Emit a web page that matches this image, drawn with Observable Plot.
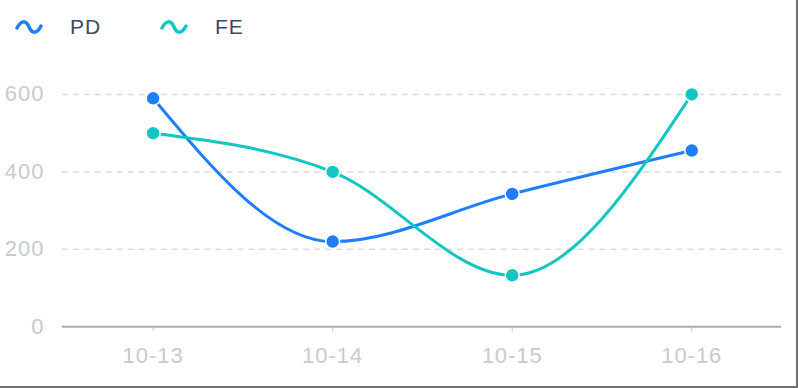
<!DOCTYPE html>
<html>
<head>
<meta charset="utf-8">
<script src="https://cdn.jsdelivr.net/npm/d3@7"></script>
<script src="https://cdn.jsdelivr.net/npm/@observablehq/plot@0.6"></script>
<style>
  html, body { margin: 0; padding: 0; background: #fff; }
  #wrap { position: relative; width: 798px; height: 388px; overflow: hidden; box-sizing: border-box; border-right: 2px solid #707070; border-bottom: 2px solid #707070; font-family: "Liberation Sans", Arial, Helvetica, sans-serif; }
  #legend { position: relative; height: 60px; }
  .item { position: absolute; top: 15px; display: flex; align-items: center; font-size: 21px; letter-spacing: 1px; color: #3d4a66; }
  .item svg { margin-right: 27px; }
  #chart { position: absolute; top: 60px; left: 0; }
  #chart text { letter-spacing: 1px; }
</style>
</head>
<body>
<div id="wrap">
  <div id="legend"></div>
  <div id="chart"></div>
</div>
<script>
const dates = ["10-13", "10-14", "10-15", "10-16"];
const pdValues = [590, 220, 343, 455];
const feValues = [500, 400, 133, 600];
const seriesNames = ["PD", "FE"];
const seriesColors = ["#1f7efc", "#14c6c1"];
const yTicks = [0, 200, 400, 600];

const data = [
  ...dates.map((d, i) => ({date: d, value: pdValues[i], series: "PD"})),
  ...dates.map((d, i) => ({date: d, value: feValues[i], series: "FE"}))
];

// legend
const legend = document.getElementById("legend");
const legendX = [15, 160];
seriesNames.forEach((name, i) => {
  const div = document.createElement("div");
  div.className = "item";
  div.style.left = legendX[i] + "px";
  div.innerHTML = `<svg width="28" height="14" viewBox="0 0 28 14"><path d="M2,8 C6,0 11,0 14,7 C17,14 22,14 26,6" fill="none" stroke="${seriesColors[i]}" stroke-width="3.5" stroke-linecap="round"/></svg><span>${name}</span>`;
  legend.appendChild(div);
});

const plot = Plot.plot({
  width: 798,
  height: 328,
  marginLeft: 62,
  marginRight: 15,
  marginTop: 34,
  marginBottom: 61,
  style: {fontFamily: '"Liberation Sans", Arial, Helvetica, sans-serif', background: "transparent", overflow: "visible"},
  x: {type: "point", domain: dates, padding: 0.5, label: null},
  y: {domain: [0, 600], label: null},
  color: {domain: seriesNames, range: seriesColors},
  marks: [
    Plot.gridY([200, 400, 600], {stroke: "#dcdcdc", strokeOpacity: 1, strokeWidth: 1.5, strokeDasharray: "6,5"}),
    Plot.ruleY([0], {stroke: "#a3adba", strokeWidth: 2}),
    Plot.axisX({tickSize: 5, tickPadding: 16, fontSize: 22, color: "#c6cad1", stroke: "#c6cad1", label: null}),
    Plot.axisY(yTicks, {tickSize: 0, tickPadding: 18, fontSize: 22, color: "#c6cad1", label: null}),
    Plot.line(data, {x: "date", y: "value", z: "series", stroke: "series", strokeWidth: 3, curve: "monotone-x"}),
    Plot.dot(data, {x: "date", y: "value", fill: "series", r: 7, stroke: "white", strokeWidth: 1.5})
  ]
});
document.getElementById("chart").appendChild(plot);
</script>
</body>
</html>
